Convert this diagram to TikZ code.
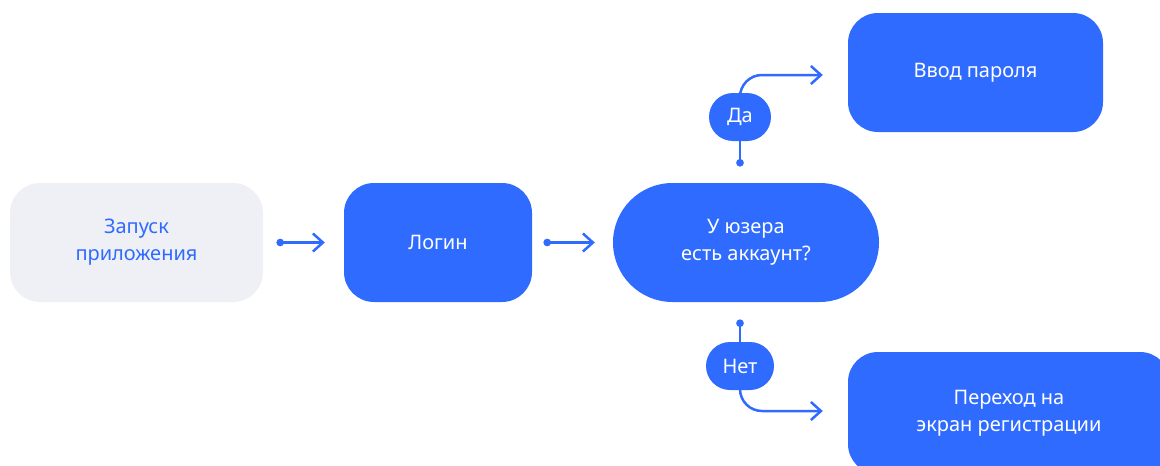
\documentclass[tikz,border=0pt]{standalone}
\usepackage{fontspec}
\setmainfont{Noto Sans}
\usetikzlibrary{arrows.meta}
\definecolor{flowblue}{RGB}{47,107,255}
\definecolor{flowgray}{RGB}{239,240,245}
\tikzset{
  box/.style={rectangle,rounded corners=30pt,fill=flowblue,text=white,align=center,
    font=\fontsize{20}{27}\selectfont,inner sep=0pt},
  pill/.style={box,rounded corners=24pt,minimum height=48pt},
  link/.style={flowblue,line width=2.5pt,line cap=round,
    {Circle[length=7.5pt]}-{Straight Barb[length=10pt,width=18pt]}},
  stem/.style={flowblue,line width=2.5pt,{Circle[length=7.5pt]}-},
  branch/.style={flowblue,line width=2.5pt,line cap=round,
    -{Straight Barb[length=10pt,width=18pt]},rounded corners=22pt,shorten >=25pt}
}
\begin{document}
\begin{tikzpicture}[x=1pt,y=-1pt]
  \clip (0,0) rectangle (1160,466);
  \useasboundingbox (0,0) rectangle (1160,466);
  % boxes
  \node[box,fill=flowgray,text=flowblue,minimum width=253pt,minimum height=119pt]
    (launch) at (136.5,242.5) {Запуск\\приложения};
  \node[box,minimum width=188pt,minimum height=119pt] (login) at (438,242.5) {Логин};
  \node[box,rounded corners=59.5pt,minimum width=266pt,minimum height=119pt]
    (check) at (746,242.5) {У юзера\\есть аккаунт?};
  \node[box,minimum width=255pt,minimum height=119pt] (password) at (975.5,72.5) {Ввод пароля};
  \node[box,minimum width=322pt,minimum height=122pt] (signup) at (1009,413) {Переход на\\экран регистрации};
  % answers
  \node[pill,minimum width=62pt] (yes) at (740,117) {Да};
  \node[pill,minimum width=68pt] (no) at (740,366) {Нет};
  % connectors
  \draw[link,shorten <=13.25pt,shorten >=19pt] (launch.east) -- (login.west);
  \draw[link,shorten <=11.25pt,shorten >=18pt] (login.east) -- (check.west);
  \draw[stem,shorten <=16.25pt] (check.north -| yes) -- (yes.south);
  \draw[stem,shorten <=17.25pt] (check.south -| no) -- (no.north);
  \draw[branch] (yes.north) |- ([yshift=-2.5pt]password.west);
  \draw[branch] (no.south) |- ([yshift=2pt]signup.west);
\end{tikzpicture}
\end{document}
